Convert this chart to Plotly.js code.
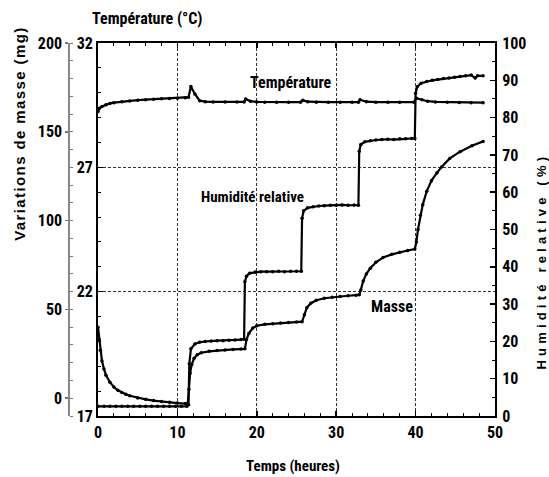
<!DOCTYPE html>
<html>
<head>
<meta charset="utf-8">
<script src="https://cdn.plot.ly/plotly-3.0.1.min.js"></script>
<style>
  html, body { margin: 0; padding: 0; background: #fff; }
  #chart { width: 549px; height: 477px; }
</style>
</head>
<body>
<div id="chart"></div>
<script>
// ---- Data ----
const timeTemp = [0, 0.2, 0.5, 1, 1.5, 2, 3, 4, 5, 6, 7, 8, 9, 10, 11, 11.4, 11.7, 12.2, 12.8, 13.5, 14.5, 16, 17.5, 18.4, 18.6, 19.2, 20, 21, 22.5, 24, 25.5, 25.8, 26.4, 27.5, 29, 30.5, 32, 32.8, 33.0, 33.8, 35, 36.5, 38, 39.8, 40.1, 40.8, 41.5, 42.5, 44, 45.5, 47, 48.5];
const temperature = [29.25, 29.38, 29.45, 29.52, 29.57, 29.6, 29.64, 29.67, 29.7, 29.72, 29.74, 29.76, 29.77, 29.78, 29.8, 29.82, 30.25, 29.95, 29.68, 29.64, 29.63, 29.63, 29.63, 29.63, 29.75, 29.66, 29.63, 29.62, 29.62, 29.62, 29.62, 29.7, 29.64, 29.62, 29.62, 29.62, 29.62, 29.62, 29.72, 29.64, 29.62, 29.62, 29.62, 29.62, 29.78, 29.72, 29.66, 29.63, 29.62, 29.61, 29.6, 29.6];

const timeHum = [0, 0.75, 1.5, 2.25, 3, 3.75, 4.5, 5.25, 6, 6.75, 7.5, 8.25, 9, 9.75, 10.5, 11.2, 11.4, 11.5, 11.7, 12.2, 12.8, 13.5, 14.25, 15, 15.75, 16.5, 17.25, 18, 18.4, 18.5, 18.7, 19.1, 19.8, 20.5, 21.25, 22, 22.75, 23.5, 24.25, 25, 25.6, 25.7, 25.9, 26.4, 27.1, 27.8, 28.5, 29.25, 30, 30.75, 31.5, 32.25, 32.8, 32.9, 33.1, 33.6, 34.3, 35, 35.75, 36.5, 37.25, 38, 38.75, 39.5, 39.9, 40.0, 40.2, 40.7, 41.4, 42.1, 42.8, 43.5, 44.2, 44.9, 45.6, 46.3, 47, 47.5, 47.8, 48.5];
const humidity = [2.6, 2.6, 2.6, 2.6, 2.6, 2.6, 2.6, 2.6, 2.6, 2.6, 2.6, 2.6, 2.6, 2.6, 2.6, 2.6, 3.0, 14, 18, 19.3, 19.8, 20.0, 20.1, 20.2, 20.2, 20.3, 20.4, 20.5, 20.6, 36, 37.5, 38.3, 38.6, 38.7, 38.7, 38.7, 38.8, 38.7, 38.8, 38.8, 38.8, 53, 55, 55.8, 56.1, 56.3, 56.4, 56.5, 56.5, 56.6, 56.5, 56.6, 56.5, 71, 72.8, 73.5, 73.8, 74.0, 74.1, 74.2, 74.1, 74.3, 74.3, 74.4, 74.4, 86.5, 88.3, 89.2, 89.7, 90.0, 90.2, 90.5, 90.6, 90.8, 91.0, 91.2, 91.4, 90.6, 91.2, 91.2];

const timeMass = [0, 0.15, 0.3, 0.5, 0.75, 1, 1.5, 2, 2.5, 3, 3.5, 4, 5, 6, 7, 8, 9, 10, 11, 11.3, 11.45, 11.6, 11.8, 12.1, 12.5, 13, 14, 15, 16, 17, 18, 18.5, 18.7, 19, 19.5, 20, 21, 22, 23, 24, 25, 25.7, 26, 26.3, 26.8, 27.5, 28.5, 29.5, 30.5, 31.5, 32.5, 32.9, 33.1, 33.4, 33.8, 34.3, 35, 35.9, 37, 38, 39, 39.9, 40.1, 40.3, 40.6, 40.9, 41.4, 42, 42.7, 43.3, 44.3, 45.6, 47.1, 48.5];
const mass = [40, 33, 27, 21, 16.5, 13, 9, 6.3, 4.5, 3.2, 2.3, 1.4, 0.2, -0.6, -1.3, -1.9, -2.3, -2.7, -3.0, -3.2, 5, 14, 19, 22.5, 24.5, 25.6, 26.4, 26.9, 27.2, 27.5, 27.7, 27.8, 33, 36.5, 39.5, 40.8, 41.6, 42, 42.3, 42.6, 42.9, 43.1, 47, 51, 53.5, 55.2, 56.3, 56.9, 57.3, 57.7, 58, 58.3, 61, 66, 70, 73.2, 76.5, 79.2, 81, 82.2, 83.2, 84, 88, 95, 103, 109, 116.5, 122.5, 127, 130.3, 135, 138.8, 142.2, 144.6];

const xTicks = [0, 10, 20, 30, 40, 50];
const tempTicks = [17, 22, 27, 32];
const humTicks = [0, 10, 20, 30, 40, 50, 60, 70, 80, 90, 100];
const massTicks = [0, 50, 100, 150, 200];

// ---- Geometry helpers (pixel -> paper) ----
const W = 549, H = 477;
const M = {l: 40, r: 54, t: 43, b: 61};
const PW = W - M.l - M.r, PH = H - M.t - M.b;
const px = x => (x - M.l) / PW;
const py = y => (H - M.b - y) / PH;

const narrow = "'Liberation Sans Narrow', 'Arial Narrow', 'Roboto Condensed', 'DejaVu Sans Condensed', Arial, sans-serif";
const wide = "'Liberation Sans', Arial, sans-serif";
const tickFont = {family: narrow, size: 16, weight: 700, color: '#000'};

const lineStyle = {color: '#000', width: 2.2};
const markerStyle = {color: '#000', size: 3.5, symbol: 'circle'};

const traces = [
  {x: timeTemp, y: temperature, yaxis: 'y', type: 'scatter', mode: 'lines+markers',
   line: lineStyle, marker: markerStyle, name: 'Température', hoverinfo: 'skip'},
  {x: timeHum, y: humidity, yaxis: 'y2', type: 'scatter', mode: 'lines+markers',
   line: lineStyle, marker: markerStyle, name: 'Humidité relative', hoverinfo: 'skip'},
  {x: timeMass, y: mass, yaxis: 'y3', type: 'scatter', mode: 'lines+markers',
   line: lineStyle, marker: markerStyle, name: 'Masse', hoverinfo: 'skip'}
];

const annFont = (size, fam) => ({family: fam || narrow, size: size, weight: 700, color: '#000'});

const layout = {
  width: W, height: H,
  margin: M,
  paper_bgcolor: '#fff', plot_bgcolor: '#fff',
  showlegend: false,
  font: {family: narrow, color: '#000'},
  xaxis: {
    domain: [px(98), 1], range: [0, 50],
    tickvals: xTicks, ticks: 'inside', ticklen: 5, tickwidth: 1.5, tickcolor: '#000',
    showline: true, linewidth: 2, linecolor: '#000', mirror: 'ticks',
    showgrid: true, gridcolor: '#333', gridwidth: 1, griddash: '3px,2px',
    zeroline: false, tickfont: tickFont, ticklabelstandoff: 1,
    minor: {dtick: 2, ticks: 'inside', ticklen: 3, tickwidth: 1, tickcolor: '#000', showgrid: false}
  },
  yaxis: {
    range: [17, 32], tickvals: tempTicks, anchor: 'x', side: 'left',
    ticks: 'inside', ticklen: 5, tickwidth: 1.5, tickcolor: '#000',
    showline: true, linewidth: 2, linecolor: '#000', mirror: false,
    showgrid: true, gridcolor: '#333', gridwidth: 1, griddash: '3px,2px',
    zeroline: false, tickfont: tickFont, ticklabelstandoff: 0,
    minor: {dtick: 1, tick0: 17, ticks: 'inside', ticklen: 3, tickwidth: 1, tickcolor: '#000', showgrid: false}
  },
  yaxis2: {
    range: [0, 100], tickvals: humTicks, overlaying: 'y', anchor: 'x', side: 'right',
    ticks: 'inside', ticklen: 5, tickwidth: 1.5, tickcolor: '#000',
    showline: true, linewidth: 2, linecolor: '#000',
    showgrid: false, zeroline: false, tickfont: tickFont, ticklabelstandoff: 2,
    minor: {dtick: 5, ticks: 'inside', ticklen: 3, tickwidth: 1, tickcolor: '#000', showgrid: false}
  },
  yaxis3: {
    range: [-10, 200], tickvals: massTicks, overlaying: 'y', anchor: 'free',
    position: px(69.3), side: 'left',
    ticks: 'outside', ticklen: 3, tickwidth: 1.5, tickcolor: '#777',
    showline: true, linewidth: 2, linecolor: '#888',
    showgrid: false, zeroline: false, tickfont: tickFont, ticklabelstandoff: 0,
    minor: {dtick: 10, tick0: 0, ticks: 'inside', ticklen: 3, tickwidth: 1, tickcolor: '#777', showgrid: false}
  },
  annotations: [
    {text: 'Température (°C)', xref: 'paper', yref: 'paper', x: px(147), y: py(19),
     xanchor: 'center', yanchor: 'middle', showarrow: false, font: annFont(16)},
    {text: 'Temps (heures)', xref: 'paper', yref: 'paper', x: px(293), y: py(466),
     xanchor: 'center', yanchor: 'middle', showarrow: false, font: annFont(15)},
    {text: 'Variations de masse (mg)', xref: 'paper', yref: 'paper', x: px(19), y: py(134),
     xanchor: 'center', yanchor: 'middle', showarrow: false, textangle: -90,
     font: annFont(15, wide)},
    {text: 'Humidité relative (%)', xref: 'paper', yref: 'paper', x: px(540.5), y: py(261),
     xanchor: 'center', yanchor: 'middle', showarrow: false, textangle: -90,
     font: annFont(13, wide)},
    {text: 'Température', xref: 'paper', yref: 'paper', x: px(291), y: py(83),
     xanchor: 'center', yanchor: 'middle', showarrow: false, font: annFont(16)},
    {text: 'Humidité relative', xref: 'paper', yref: 'paper', x: px(252), y: py(197),
     xanchor: 'center', yanchor: 'middle', showarrow: false, font: annFont(15)},
    {text: 'Masse', xref: 'paper', yref: 'paper', x: px(392), y: py(306),
     xanchor: 'center', yanchor: 'middle', showarrow: false, font: annFont(16)}
  ]
};

Plotly.newPlot('chart', traces, layout, {displayModeBar: false, staticPlot: true}).then(() => {
  document.querySelectorAll('.annotation-text').forEach(el => {
    const t = el.textContent;
    if (t === 'Variations de masse (mg)') el.style.letterSpacing = '1.4px';
    if (t === 'Humidité relative (%)') el.style.letterSpacing = '4.2px';
  });
});
</script>
</body>
</html>
